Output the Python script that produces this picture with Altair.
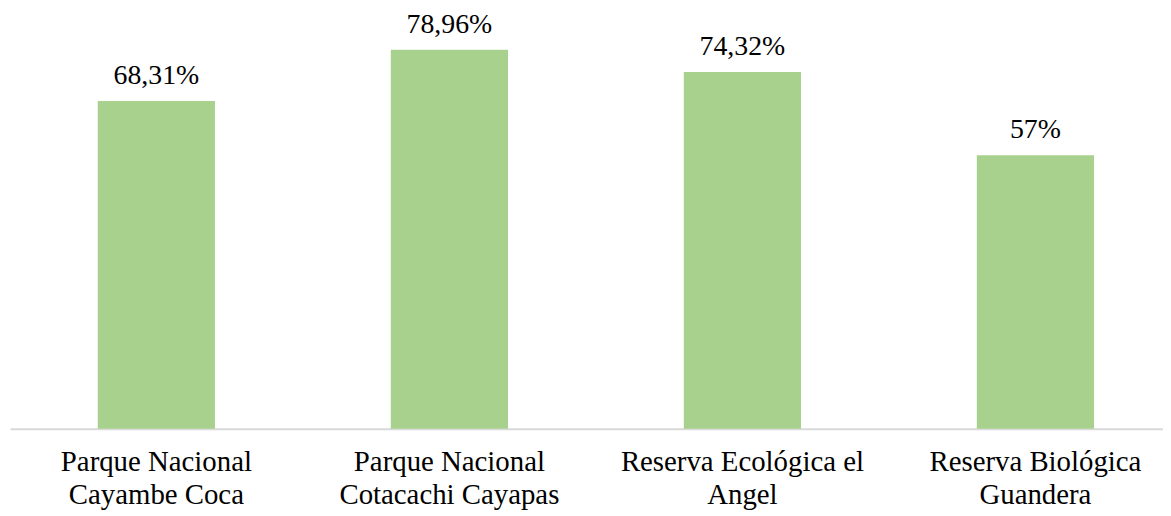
import altair as alt
import pandas as pd

categories = [
    "Parque Nacional|Cayambe Coca",
    "Parque Nacional|Cotacachi Cayapas",
    "Reserva Ecológica el|Angel",
    "Reserva Biológica|Guandera",
]
values = [68.31, 78.96, 74.32, 57.0]
value_labels = ["68,31%", "78,96%", "74,32%", "57%"]

df = pd.DataFrame({"cat": categories, "val": values, "lab": value_labels})

FONT = "Liberation Serif"

x = alt.X(
    "cat:N",
    sort=categories,
    title=None,
    scale=alt.Scale(paddingInner=0.6, paddingOuter=0.2675, align=0.56),
    axis=alt.Axis(
        labelExpr="split(datum.label, '|')",
        labelAngle=0,
        labelFont=FONT,
        labelFontSize=29,
        labelColor="#000000",
        labelLineHeight=33.5,
        labelPadding=19,
        labelLimit=0,
        ticks=False,
        domainColor="#d9d9d9",
        domainWidth=2,
        grid=False,
    ),
)
y = alt.Y("val:Q", scale=alt.Scale(domain=[0, 87.3], nice=False), axis=None)

bars = alt.Chart(df).mark_bar(color="#A9D18E").encode(x=x, y=y)
text = alt.Chart(df).mark_text(
    font=FONT, fontSize=28, color="#000000", baseline="alphabetic", dy=-17
).encode(x=x, y=y, text="lab:N")

chart = (
    alt.layer(bars, text)
    .properties(
        width=1161,
        height=422,
        autosize=alt.AutoSizeParams(type="none"),
        padding={"left": 2, "top": 0, "right": 0, "bottom": 86},
    )
    .configure_view(stroke=None)
)

chart.save("out.html", embed_options={"renderer": "svg", "actions": False})
